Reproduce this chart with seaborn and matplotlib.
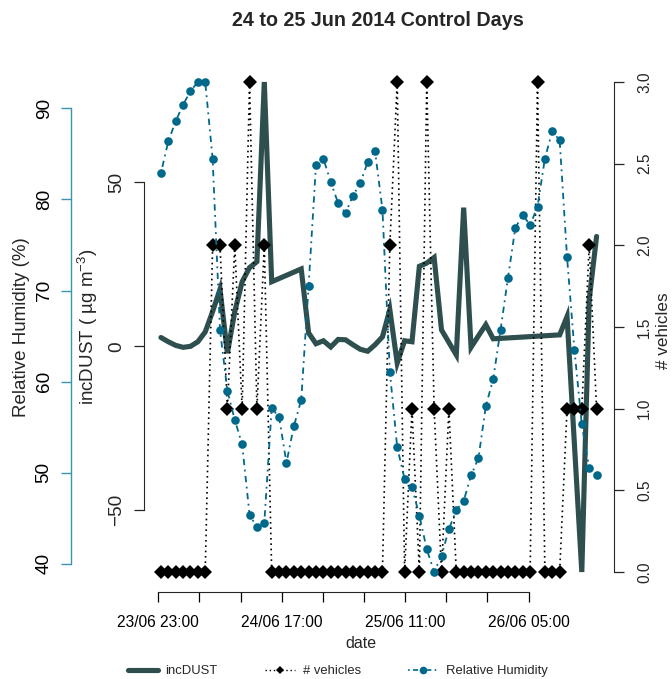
import numpy as np
import pandas as pd
import matplotlib
matplotlib.use("Agg")
import matplotlib.pyplot as plt
import matplotlib.dates as mdates
from matplotlib.lines import Line2D
import seaborn as sns

nan = np.nan

# ---------------- data ----------------
start_time = "2014-06-23 23:23"
obs_step = "64min36s"
n_obs = 60

inc_dust = [2.7, 1.4, 0.3, -0.3, 0.0, 1.4, 4.4, 10.6, 17.4, -2.1,
            10.6, 19.7, 24.0, 25.8, 80.6, 19.7, nan, nan, nan, 23.6,
            4.1, 0.8, 1.7, -0.2, 2.1, 2.0, 0.5, -0.9, -1.5, 0.5,
            2.9, 11.2, -5.1, 1.7, 1.4, 24.4, 25.4, 27.1, 5.0, nan,
            -2.6, 42.3, -0.3, 3.2, 6.6, 2.3, nan, nan, nan, nan,
            nan, nan, nan, nan, 3.5, 9.1, nan, -68.8, 14.2, 33.5]

vehicles = [0, 0, 0, 0, 0, 0, 0, 2, 2, 1,
            2, 1, 3, 1, 2, 0, 0, 0, 0, 0,
            0, 0, 0, 0, 0, 0, 0, 0, 0, 0,
            0, 2, 3, 0, 1, 0, 3, 1, 0, 1,
            0, 0, 0, 0, 0, 0, 0, 0, 0, 0,
            0, 3, 0, 0, 0, 1, 1, 1, 2, 1]

rel_hum = [82.9, 86.4, 88.6, 90.4, 91.9, 92.9, 92.9, 84.5, 65.7, 59.0,
           55.8, 53.1, 45.4, 44.0, 44.5, 57.1, 56.1, 51.1, 55.1, 58.0,
           70.5, 83.8, 84.5, 81.9, 79.6, 78.5, 80.4, 81.8, 84.1, 85.3,
           78.9, 61.1, 52.8, 49.3, 48.4, 45.3, 41.6, 39.1, 40.9, 43.8,
           45.9, 46.9, 49.7, 51.6, 57.3, 60.3, 65.7, 71.4, 76.9, 78.3,
           77.2, 79.2, 84.5, 87.5, 86.5, 73.7, 63.5, 55.3, 50.5, 49.8]

tick_start = "2014-06-23 23:00"
tick_step = "6h"
n_ticks = 10
tick_label_every = 3

dust_ticks = [-50, 0, 50]
rh_ticks = [40, 50, 60, 70, 80, 90]
veh_ticks = [0.0, 0.5, 1.0, 1.5, 2.0, 2.5, 3.0]

title = "24 to 25 Jun 2014 Control Days"
series_names = ["incDUST", "# vehicles", "Relative Humidity"]

# ---------------- styling ----------------
sns.set_style("white")
plt.rcParams["font.family"] = ["Liberation Sans", "DejaVu Sans"]
plt.rcParams["mathtext.fontset"] = "custom"
plt.rcParams["mathtext.rm"] = "Liberation Sans"
plt.rcParams["mathtext.default"] = "regular"

DUST_C = "#2F4F4F"   # darkslategray
RH_C = "#00688B"     # deepskyblue4
RH_AXIS_C = "#3A93B0"
VEH_C = "black"

times = pd.date_range(start_time, periods=n_obs, freq=obs_step)
t_num = mdates.date2num(times.to_pydatetime())
df = pd.DataFrame({"t": t_num, "dust": inc_dust, "veh": vehicles, "rh": rel_hum})

tick_times = pd.date_range(tick_start, periods=n_ticks, freq=tick_step)
tick_num = mdates.date2num(tick_times.to_pydatetime())
tick_labels = [tt.strftime("%d/%m %H:%M") if k % tick_label_every == 0 else ""
               for k, tt in enumerate(tick_times)]


def rpad(lo, hi, f=0.04):
    d = hi - lo
    return lo - f * d, hi + f * d


W, H = 672, 679
fig = plt.figure(figsize=(W / 100, H / 100), dpi=100)
L, R, T, B = 143.5, 614.0, 62.4, 591.6
rect = [L / W, 1 - B / H, (R - L) / W, (B - T) / H]

ax = fig.add_axes(rect)
ax_v = fig.add_axes(rect, sharex=ax)
ax_rh = fig.add_axes(rect, sharex=ax)
for a in (ax_v, ax_rh):
    a.patch.set_visible(False)
for a in (ax, ax_v, ax_rh):
    a.grid(False)
    for s in a.spines.values():
        s.set_visible(False)

# --- series ---
d_dust = df.dropna(subset=["dust"])
sns.lineplot(data=d_dust, x="t", y="dust", ax=ax, color=DUST_C, linewidth=3.7,
             estimator=None, sort=False, solid_joinstyle="miter")
sns.lineplot(data=df, x="t", y="veh", ax=ax_v, color=VEH_C, linewidth=1.2,
             linestyle=(0, (1, 2.2)), marker="D", markersize=7.3,
             markeredgewidth=0, markeredgecolor=VEH_C, markerfacecolor=VEH_C,
             estimator=None, sort=False)
sns.lineplot(data=df, x="t", y="rh", ax=ax_rh, color=RH_C, linewidth=1.3,
             linestyle=(0, (1, 2.5, 3.5, 2.5)), marker="o", markersize=6.2,
             markeredgewidth=0, markeredgecolor=RH_C, markerfacecolor=RH_C,
             estimator=None, sort=False)

# --- limits (R style 4% padding) ---
ax.set_xlim(*rpad(t_num.min(), t_num.max()))
ax.set_ylim(*rpad(np.nanmin(inc_dust), np.nanmax(inc_dust)))
ax_v.set_ylim(*rpad(min(vehicles), max(vehicles)))
ax_rh.set_ylim(*rpad(min(rel_hum), max(rel_hum)))

# --- x axis ---
ax.spines["bottom"].set_visible(True)
ax.spines["bottom"].set_bounds(tick_num[0], tick_num[-1])
ax.set_xticks(tick_num)
ax.set_xticklabels(tick_labels)
ax.tick_params(axis="x", direction="out", length=7.2, width=0.9, pad=10,
               labelsize=11.2, colors="black", bottom=True)
ax.set_xlabel("date", fontsize=11.5, va="center")
ax.xaxis.set_label_coords((361 - L) / (R - L), -(643 - B) / (B - T))
for a in (ax_v, ax_rh):
    a.tick_params(axis="x", bottom=False, labelbottom=False)
    a.set_xlabel("")

# --- dust axis (left, inner) ---
ax.spines["left"].set_visible(True)
ax.spines["left"].set_bounds(dust_ticks[0], dust_ticks[-1])
ax.set_yticks(dust_ticks)
ax.tick_params(axis="y", direction="out", length=7.2, width=0.9, pad=6,
               labelsize=13.7, labelrotation=90, left=True)
for lbl in ax.get_yticklabels():
    lbl.set_va("center")
ax.set_ylabel("incDUST ( µg m$^{-3}$)", fontsize=13.5, va="center")
ax.yaxis.set_label_coords(-(L - 88) / (R - L), 0.5)

# --- vehicles axis (right) ---
ax_v.spines["right"].set_visible(True)
ax_v.spines["right"].set_bounds(veh_ticks[0], veh_ticks[-1])
ax_v.yaxis.tick_right()
ax_v.yaxis.set_label_position("right")
ax_v.set_yticks(veh_ticks)
ax_v.set_yticklabels([f"{v:.1f}" for v in veh_ticks])
ax_v.tick_params(axis="y", direction="out", length=7.2, width=0.9, pad=9.5,
                 labelsize=11.2, labelrotation=90, right=True, left=False)
for lbl in ax_v.get_yticklabels():
    lbl.set_va("center")
ax_v.set_ylabel("# vehicles", fontsize=12.3, va="center", rotation=90)
ax_v.yaxis.set_label_coords(1 + (663 - R) / (R - L), (B - 331) / (B - T))

# --- relative humidity axis (left, outer) ---
ax_rh.spines["left"].set_visible(True)
ax_rh.spines["left"].set_position(("outward", (L - 71) * 0.72))
ax_rh.spines["left"].set_bounds(rh_ticks[0], rh_ticks[-1])
ax_rh.spines["left"].set_color(RH_AXIS_C)
ax_rh.spines["left"].set_linewidth(1.0)
ax_rh.set_yticks(rh_ticks)
ax_rh.tick_params(axis="y", direction="out", length=7.2, width=1.0, pad=6,
                  labelsize=13.7, labelrotation=90, left=True, color=RH_AXIS_C,
                  labelcolor="black")
for lbl in ax_rh.get_yticklabels():
    lbl.set_va("center")
ax_rh.set_ylabel("Relative Humidity (%)", fontsize=13.5, va="center")
ax_rh.yaxis.set_label_coords(-(L - 21.7) / (R - L), 0.5)

# --- title ---
fig.text(378 / W, 1 - 20 / H, title, ha="center", va="center",
         fontsize=14.2, fontweight="bold")

# --- legend ---
handles = [
    Line2D([], [], color=DUST_C, lw=3.7),
    Line2D([], [], color=VEH_C, lw=1.0, ls=(0, (1, 2)), marker="D",
           markersize=4.5, markeredgewidth=0),
    Line2D([], [], color=RH_C, lw=1.2, ls=(0, (1, 2, 3, 2)), marker="o",
           markersize=5.5, markeredgewidth=0),
]
fig.legend(handles, series_names, loc="center",
           bbox_to_anchor=(337.5 / W, 1 - 671 / H), ncol=3, frameon=False,
           fontsize=9.4, handlelength=2.3, handletextpad=0.6,
           columnspacing=3.6)

fig.savefig("out.png", dpi=100)
